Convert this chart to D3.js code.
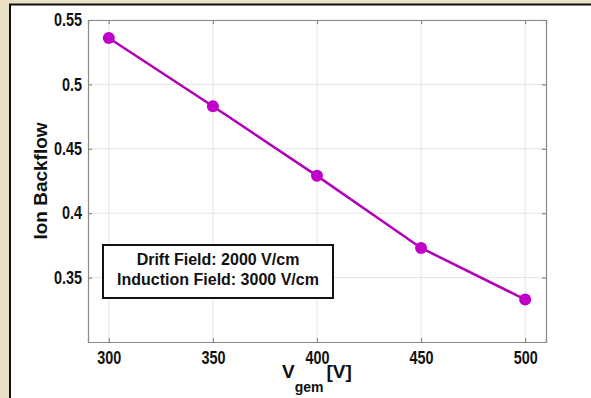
<!DOCTYPE html>
<html>
<head>
<script src="https://cdn.jsdelivr.net/npm/d3@7"></script>
<style>
  body { margin:0; background:#e9e0c6; }
  svg { display:block; }
  text { font-family:"Liberation Sans", Arial, sans-serif; font-weight:bold; }
</style>
</head>
<body>
<svg id="chart" width="591" height="398"></svg>
<script>
// data
var voltages = [300, 350, 400, 450, 500];
var backflow = [0.536, 0.483, 0.429, 0.373, 0.333];
var xTicks = [300, 350, 400, 450, 500];
var yTicks = [0.35, 0.4, 0.45, 0.5, 0.55];
var noteLines = ["Drift Field: 2000 V/cm", "Induction Field: 3000 V/cm"];

var svg = d3.select("#chart");
var W = 591, H = 398;

// beige frame + white panel
svg.append("rect").attr("x", 0).attr("y", 0).attr("width", W).attr("height", H).attr("fill", "#e9e0c6");
svg.append("rect").attr("x", 10).attr("y", 4.5).attr("width", W).attr("height", H)
    .attr("fill", "#fff").attr("stroke", "#111").attr("stroke-width", 2);

var m = {left: 88, top: 20, right: 546, bottom: 342};
var x = d3.scaleLinear().domain([290, 510]).range([m.left, m.right]);
var y = d3.scaleLinear().domain([0.30, 0.55]).range([m.bottom, m.top]);

var g = svg.append("g");

// grid
g.selectAll(".vg").data(xTicks).enter().append("line")
    .attr("x1", function(d){ return x(d); }).attr("x2", function(d){ return x(d); })
    .attr("y1", m.top).attr("y2", m.bottom)
    .attr("stroke", "#e4e4e4").attr("stroke-width", 1);
g.selectAll(".hg").data(yTicks).enter().append("line")
    .attr("x1", m.left).attr("x2", m.right)
    .attr("y1", function(d){ return y(d); }).attr("y2", function(d){ return y(d); })
    .attr("stroke", "#e4e4e4").attr("stroke-width", 1);

// axes with inward ticks
var xAxis = d3.axisBottom(x).tickValues(xTicks).tickSize(-4).tickPadding(9).tickFormat(d3.format("d"));
var yAxis = d3.axisLeft(y).tickValues(yTicks).tickSize(-4).tickPadding(5).tickFormat(function(d){ return d3.format("")(+d.toFixed(2)); });

var xa = g.append("g").attr("transform", "translate(0," + m.bottom + ")").call(xAxis);
var ya = g.append("g").attr("transform", "translate(" + m.left + ",0)").call(yAxis);
var xt = g.append("g").attr("transform", "translate(0," + m.top + ")")
    .call(d3.axisTop(x).tickValues(xTicks).tickSize(-4).tickFormat(""));
var yr = g.append("g").attr("transform", "translate(" + m.right + ",0)")
    .call(d3.axisRight(y).tickValues(yTicks).tickSize(-4).tickFormat(""));

[xa, ya, xt, yr].forEach(function(a){
    a.select(".domain").attr("stroke", "#8a8a8a").attr("stroke-width", 1.2);
    a.selectAll(".tick line").attr("stroke", "#8a8a8a").attr("stroke-width", 1.2);
    a.selectAll(".tick text").attr("fill", "#111").style("font-size", "18px")
        .attr("transform", "scale(0.8,1)");
});
// keep the y labels' right edge where the narrow font would put it
ya.selectAll(".tick text").attr("x", -6 / 0.8);

// line + markers
var pts = voltages.map(function(v, i){ return [v, backflow[i]]; });
var line = d3.line().x(function(d){ return x(d[0]); }).y(function(d){ return y(d[1]); });
g.append("path").datum(pts).attr("d", line)
    .attr("fill", "none").attr("stroke", "#b000b8").attr("stroke-width", 2.5);
g.selectAll(".pt").data(pts).enter().append("circle")
    .attr("cx", function(d){ return x(d[0]); })
    .attr("cy", function(d){ return y(d[1]); })
    .attr("r", 6).attr("fill", "#c000c8");

// note box
g.append("rect").attr("x", 103).attr("y", 245).attr("width", 230).attr("height", 53)
    .attr("fill", "#fff").attr("stroke", "#111").attr("stroke-width", 2);
g.selectAll(".note").data(noteLines).enter().append("text")
    .attr("x", 218).attr("y", function(d, i){ return 265 + i * 20; })
    .attr("text-anchor", "middle").attr("fill", "#111").style("font-size", "16px")
    .text(function(d){ return d; });

// y label
svg.append("text").attr("transform", "translate(47,181) rotate(-90)")
    .attr("text-anchor", "middle").attr("fill", "#111").style("font-size", "19px")
    .text("Ion Backflow");

// x label with subscript
var xl = svg.append("text").attr("x", 282).attr("y", 378).attr("fill", "#111").style("font-size", "19px");
xl.append("tspan").text("V");
xl.append("tspan").attr("dy", 14).style("font-size", "14px").text("gem");
xl.append("tspan").attr("dy", -14).attr("dx", 3).text("[V]");
</script>
</body>
</html>
